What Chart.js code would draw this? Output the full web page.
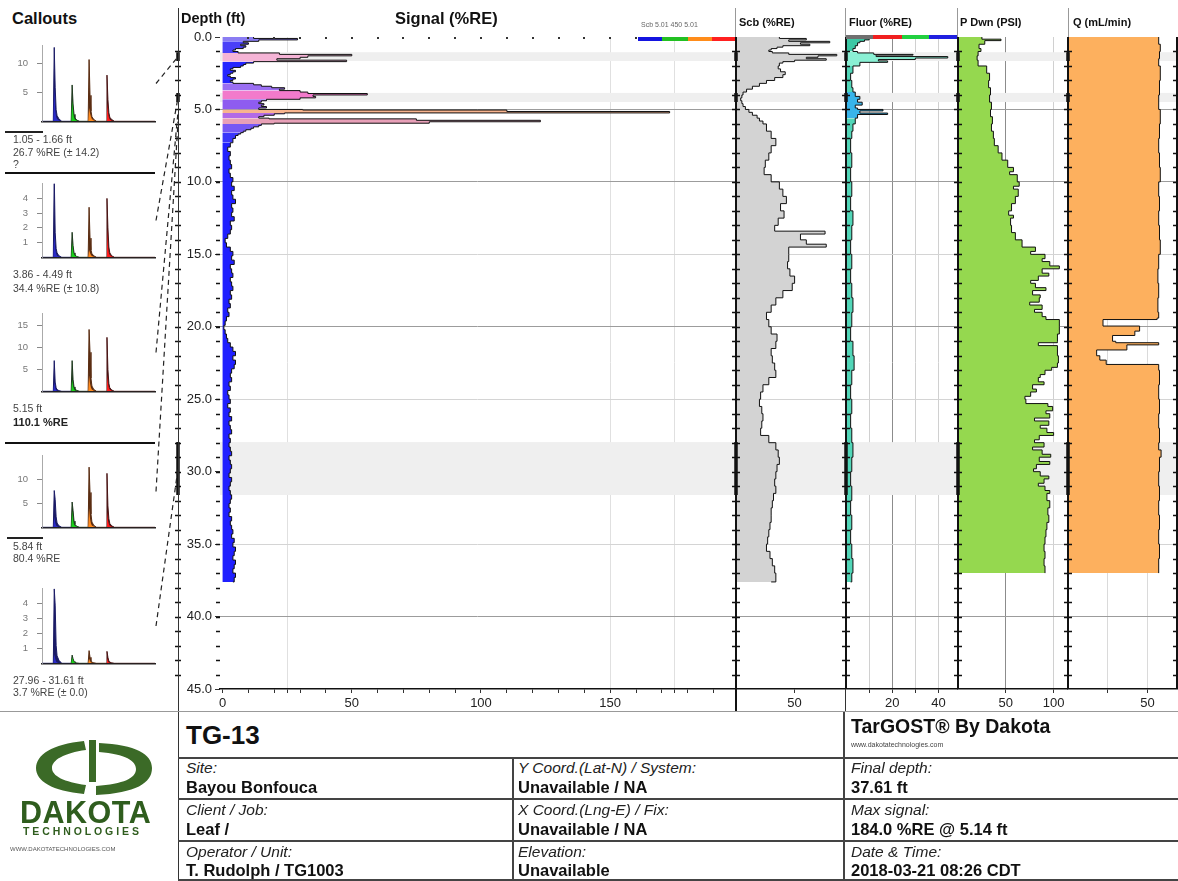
<!DOCTYPE html>
<html><head><meta charset="utf-8">
<script src="https://cdn.jsdelivr.net/npm/chart.js@4/dist/chart.umd.min.js"></script>
<style>
html,body{margin:0;padding:0;background:#fff}
body{width:1178px;height:881px;position:relative;overflow:hidden;font-family:"Liberation Sans",Arial,sans-serif;color:#111}
.t{position:absolute;white-space:nowrap;line-height:1;z-index:5}
.ln{position:absolute;background:#111;z-index:5}
canvas{position:absolute}
.lab{font-style:italic;font-size:15.5px;color:#222}
.val{font-weight:bold;font-size:16.5px;color:#111}
.co{font-size:10.5px;color:#444}
</style></head><body>

<div class="t" style="left:12px;top:10px;font-size:16.5px;font-weight:bold">Callouts</div>
<div class="t" style="left:181px;top:11px;font-size:14.5px;font-weight:bold">Depth (ft)</div>
<div class="t" style="left:395px;top:10px;font-size:16.5px;font-weight:bold">Signal (%RE)</div>
<div class="t" style="left:641px;top:21px;font-size:7px;color:#666">Scb 5.01 450 5.01</div>
<div class="t" style="left:739px;top:17px;font-size:11px;font-weight:bold">Scb (%RE)</div>
<div class="t" style="left:849px;top:17px;font-size:11px;font-weight:bold">Fluor (%RE)</div>
<div class="t" style="left:960px;top:17px;font-size:11px;font-weight:bold">P Dwn (PSI)</div>
<div class="t" style="left:1073px;top:17px;font-size:11px;font-weight:bold">Q (mL/min)</div>

<!-- legend bars -->
<div class="ln" style="left:638px;top:37px;width:24px;height:4px;background:#1414e0"></div>
<div class="ln" style="left:662px;top:37px;width:26px;height:4px;background:#22c022"></div>
<div class="ln" style="left:688px;top:37px;width:24px;height:4px;background:#ff8c1a"></div>
<div class="ln" style="left:712px;top:37px;width:23px;height:4px;background:#ff2020"></div>
<div class="ln" style="left:846px;top:35px;width:27px;height:4px;background:#707070"></div>
<div class="ln" style="left:873px;top:35px;width:29px;height:4px;background:#f02020"></div>
<div class="ln" style="left:902px;top:35px;width:27px;height:4px;background:#22d040"></div>
<div class="ln" style="left:929px;top:35px;width:28px;height:4px;background:#2020e0"></div>

<!-- separators -->
<div class="ln" style="left:178px;top:8px;width:1px;height:873px;background:#333"></div>
<div class="ln" style="left:735px;top:8px;width:1px;height:29px;background:#999"></div>
<div class="ln" style="left:845px;top:8px;width:1px;height:29px;background:#999"></div>
<div class="ln" style="left:957px;top:8px;width:1px;height:29px;background:#999"></div>
<div class="ln" style="left:1068px;top:8px;width:1px;height:29px;background:#999"></div>
<div class="ln" style="left:735px;top:689px;width:2px;height:23px;background:#111"></div>
<div class="ln" style="left:845px;top:689px;width:1px;height:23px;background:#333"></div>
<div class="ln" style="left:0;top:711px;width:1178px;height:1px;background:#999"></div>

<!-- callout separators -->
<div class="ln" style="left:5px;top:172px;width:150px;height:2px;background:#111"></div>
<div class="ln" style="left:5px;top:442px;width:150px;height:2px;background:#111"></div>
<div class="ln" style="left:5px;top:131px;width:38px;height:1.5px;background:#222"></div>
<div class="ln" style="left:7px;top:537px;width:36px;height:1.5px;background:#222"></div>

<!-- callout texts -->
<div class="t co" style="left:13px;top:134px">1.05 - 1.66 ft</div>
<div class="t co" style="left:13px;top:147px">26.7 %RE (± 14.2)</div>
<div class="t co" style="left:13px;top:159px">?</div>
<div class="t co" style="left:13px;top:269px">3.86 - 4.49 ft</div>
<div class="t co" style="left:13px;top:283px">34.4 %RE (± 10.8)</div>
<div class="t co" style="left:13px;top:403px">5.15 ft</div>
<div class="t" style="left:13px;top:417px;font-size:11px;font-weight:bold;color:#222">110.1 %RE</div>
<div class="t co" style="left:13px;top:541px">5.84 ft</div>
<div class="t co" style="left:13px;top:553px">80.4 %RE</div>
<div class="t co" style="left:13px;top:675px">27.96 - 31.61 ft</div>
<div class="t co" style="left:13px;top:687px">3.7 %RE (± 0.0)</div>

<!-- info table -->
<div class="ln" style="left:178px;top:757px;width:1000px;height:1.5px;background:#444"></div>
<div class="ln" style="left:178px;top:798px;width:1000px;height:1.5px;background:#444"></div>
<div class="ln" style="left:178px;top:840px;width:1000px;height:1.5px;background:#444"></div>
<div class="ln" style="left:178px;top:879px;width:1000px;height:1.5px;background:#444"></div>
<div class="ln" style="left:512px;top:757px;width:1.5px;height:124px;background:#444"></div>
<div class="ln" style="left:843px;top:712px;width:1.5px;height:169px;background:#444"></div>

<div class="t" style="left:186px;top:722px;font-size:26px;font-weight:bold">TG-13</div>
<div class="t" style="left:851px;top:717px;font-size:19.5px;font-weight:bold">TarGOST® By Dakota</div>
<div class="t" style="left:851px;top:741px;font-size:7px;color:#444">www.dakotatechnologies.com</div>

<div class="t lab" style="left:186px;top:760px">Site:</div>
<div class="t val" style="left:186px;top:779px">Bayou Bonfouca</div>
<div class="t lab" style="left:186px;top:802px">Client / Job:</div>
<div class="t val" style="left:186px;top:821px">Leaf /</div>
<div class="t lab" style="left:186px;top:844px">Operator / Unit:</div>
<div class="t val" style="left:186px;top:862px">T. Rudolph / TG1003</div>

<div class="t lab" style="left:518px;top:760px">Y Coord.(Lat-N) / System:</div>
<div class="t val" style="left:518px;top:779px">Unavailable / NA</div>
<div class="t lab" style="left:518px;top:802px">X Coord.(Lng-E) / Fix:</div>
<div class="t val" style="left:518px;top:821px">Unavailable / NA</div>
<div class="t lab" style="left:518px;top:844px">Elevation:</div>
<div class="t val" style="left:518px;top:862px">Unavailable</div>

<div class="t lab" style="left:851px;top:760px">Final depth:</div>
<div class="t val" style="left:851px;top:779px">37.61 ft</div>
<div class="t lab" style="left:851px;top:802px">Max signal:</div>
<div class="t val" style="left:851px;top:821px">184.0 %RE @ 5.14 ft</div>
<div class="t lab" style="left:851px;top:844px">Date &amp; Time:</div>
<div class="t val" style="left:851px;top:862px">2018-03-21 08:26 CDT</div>

<!-- logo -->
<svg style="position:absolute;left:32px;top:738px;z-index:5" width="125" height="60" viewBox="0 0 125 60">
  <path d="M52,3 C20,6 4,17 4,30 C4,43 20,53 52,56 L54,47 C32,44 20,38 20,30 C20,22 32,15 54,12 Z" fill="#3b6a27"/>
  <rect x="57" y="2" width="7" height="42" fill="#3b6a27"/>
  <path d="M67,14 C94,16 104,23 104,31 C104,40 92,46 64,48 L64,57 C104,55 120,45 120,30 C120,16 104,7 67,5 Z" fill="#3b6a27"/>
</svg>
<div class="t" style="left:20px;top:797px;font-size:30.5px;font-weight:bold;color:#2f5d1e;letter-spacing:0.5px">DAKOTA</div>
<div class="t" style="left:23px;top:826px;font-size:10.5px;font-weight:bold;color:#2f5d1e;letter-spacing:2.9px">TECHNOLOGIES</div>
<div class="t" style="left:10px;top:846px;font-size:6px;color:#555">WWW.DAKOTATECHNOLOGIES.COM</div>

<script>
// ---------------- DATA ----------------
// Main signal (%RE) vs depth (ft)
const sigDepth = [0.0,0.1,0.2,0.3,0.4,0.5,0.6,0.7,0.8,0.9,1.0,1.1,1.2,1.3,1.4,1.5,1.6,1.7,1.8,1.9,
  2.0,2.1,2.2,2.3,2.4,2.5,2.6,2.7,2.8,2.9,3.0,3.1,3.2,3.3,3.4,3.5,3.6,3.7,3.8,3.9,
  4.0,4.1,4.2,4.3,4.4,4.5,4.6,4.7,4.8,4.9,5.0,5.04,5.14,5.24,5.3,5.4,5.5,5.6,5.65,5.75,5.85,5.95,
  6.0,6.1,6.2,6.3,6.4,6.5,6.6,6.7,6.8,6.9,7.0,
  7.3,7.6,7.9,8.2,8.5,8.8,9.1,9.4,9.7,10.0,10.3,10.6,10.9,11.2,11.5,11.8,12.1,12.4,12.7,13.0,
  13.3,13.6,13.9,14.2,14.5,14.8,15.1,15.4,15.7,16.0,16.3,16.6,16.9,17.2,17.5,17.8,18.1,18.4,18.7,19.0,
  19.3,19.6,19.9,20.2,20.5,20.8,21.1,21.4,21.7,22.0,22.3,22.6,22.9,23.2,23.5,23.8,24.1,24.4,24.7,25.0,
  25.3,25.6,25.9,26.2,26.5,26.8,27.1,27.4,27.7,28.0,28.3,28.6,28.9,29.2,29.5,29.8,30.1,30.4,30.7,31.0,
  31.3,31.6,31.9,32.2,32.5,32.8,33.1,33.4,33.7,34.0,34.3,34.6,34.9,35.2,35.5,35.8,36.1,36.4,36.7,37.0,
  37.3,37.61];
const sigValue = [12,29,14,8,10,7,9,8,5,4,6,22,50,33,30,21,48,12,9,8,
  7,4,3,5,4,3,2,3,5,4,3,4,12,15,19,24,22,30,33,56,
  35,36,30,17,15,14,16,15,17,14,31,110,173,24,20,16,14,18,75,123,80,20,
  15,14,12,11,9,8,7,6,5,5,4,
  3,2,3,2.5,3,3.5,2.5,3,4,3.5,4.5,3.5,4,5,3.5,4,3.5,4.5,3,3.5,
  3,2,1,1.5,3,4,3.5,4.5,3,3.5,4,3,3.5,4,3,3.5,2.5,3,2,2.5,
  1.5,1,0.5,1,1.5,2,3,4,5,4,5,4.5,3.5,3,3.5,2.5,3,2,2.5,3,
  2,3,2.5,3.5,2.5,3,3.5,2.5,3,2.5,3,3.5,2.5,3,3.5,3,2.5,3.5,3,2.5,
  3,3.5,3,2.5,3,2.5,3.5,3,3.5,4,3.5,4.5,4,5,4.5,4,5,4.5,4,5,
  4.5,4];

// Scb (%RE)
const scbDepth = [0.0,0.1,0.2,0.3,0.4,0.5,0.6,0.7,0.8,0.9,1.0,1.1,1.2,1.3,1.4,1.5,1.6,1.7,1.8,2.0,
  2.2,2.4,2.6,2.8,3.0,3.2,3.4,3.6,3.8,4.0,4.2,4.4,4.6,4.8,5.0,5.2,5.4,5.6,5.8,6.0,
  6.5,7.0,7.5,8.0,8.5,9.0,9.5,10.0,10.5,11.0,11.5,12.0,12.5,13.0,13.4,13.6,14.0,14.3,14.5,15.0,
  15.5,16.0,16.5,17.0,17.5,18.0,18.5,19.0,19.5,20.0,20.5,21.0,21.5,22.0,22.5,23.0,23.5,24.0,24.5,25.0,
  25.5,26.0,26.5,27.0,27.5,28.0,28.5,29.0,29.5,30.0,30.5,31.0,31.5,32.0,32.5,33.0,33.5,34.0,34.5,35.0,
  35.5,36.0,36.5,37.0,37.61];
const scbValue = [37,60,45,80,55,63,40,35,30,28,31,45,86,70,60,77,50,40,37,36,
  38,42,40,33,26,20,14,9,6,5,4,5,6,8,11,14,18,20,23,26,
  30,34,30,28,25,24,30,37,40,43,38,41,36,33,76,55,60,77,45,45,
  44,46,50,48,40,34,30,26,28,30,35,34,30,31,33,34,28,23,21,20,
  22,23,22,21,28,34,36,37,35,34,33,34,32,31,30,30,29,28,27,26,
  29,31,33,34,30];

// Fluor (%RE)
const fluDepth = [0.0,0.1,0.2,0.3,0.4,0.6,0.8,1.0,1.1,1.2,1.25,1.35,1.45,1.55,1.65,1.75,2.0,2.5,3.0,3.5,
  3.8,4.1,4.3,4.5,4.7,4.9,5.0,5.1,5.25,5.35,5.6,6.0,6.5,7.0,8.0,9.0,10.0,11.0,12.0,13.0,
  14.0,15.0,16.0,17.0,18.0,19.0,20.0,21.0,22.0,23.0,24.0,25.0,26.0,27.0,28.0,29.0,30.0,31.0,32.0,33.0,
  34.0,35.0,36.0,37.0,37.61];
const fluValue = [12,10,8,6,5,4,3,5,12,29,13,44,30,14,18,6,3,2,2.5,3,
  4,6,5,7,4,5,16,6,18,5,4,3,2.5,2,2.5,2,2.5,2,3,2.5,
  2,2.5,2,2.5,3,2.5,2,3,3.5,2.5,2,2.5,2,2.5,3,2.5,2,2.5,2,2.5,
  2,2.5,3,2.5,2];

// P Dwn (PSI)
const pDepth = [0.0,0.15,0.25,0.5,0.8,1.0,1.3,1.6,2.0,2.5,3.0,3.5,4.0,4.5,5.0,5.5,6.0,6.5,7.0,7.5,
  8.0,8.5,9.0,9.3,9.5,10.0,10.3,10.5,11.0,11.5,12.0,12.3,12.5,13.0,13.5,14.0,14.5,14.8,15.0,15.3,
  15.5,15.8,16.0,16.3,16.5,16.8,17.0,17.3,17.5,17.8,18.0,18.3,18.5,18.8,19.0,19.3,19.5,20.0,20.5,21.0,
  21.1,21.3,22.0,22.5,22.8,23.0,23.3,23.5,23.8,24.0,24.3,24.5,24.8,25.0,25.3,25.5,25.8,26.0,26.3,26.5,
  26.8,27.0,27.3,27.5,27.8,28.0,28.3,28.5,28.8,29.0,29.3,29.5,29.8,30.0,30.3,30.5,30.8,31.0,31.3,31.5,
  32.0,32.5,33.0,33.5,34.0,34.5,35.0,35.5,36.0,36.5,37.0];
const pValue = [25,45,28,22,24,21,20,21,30,33,32,34,33,35,34,36,35,37,38,42,
  46,52,58,54,62,64,58,63,60,56,53,58,55,56,60,67,81,76,91,88,
  96,106,88,95,84,76,81,92,78,86,85,75,88,80,88,92,106,106,104,104,
  84,104,105,104,98,91,86,84,90,78,82,76,70,71,94,99,92,96,80,95,
  86,93,100,85,80,90,78,88,97,85,96,82,79,86,95,90,84,91,96,93,
  96,94,95,93,92,91,90,91,90,91,91];

// Q (mL/min)
const qDepth = [0.0,0.5,1.0,1.5,2.0,3.0,4.0,5.0,6.0,7.0,8.0,9.0,10.0,11.0,12.0,13.0,14.0,15.0,16.0,17.0,
  18.0,19.0,19.4,19.5,19.95,20.3,20.6,21.0,21.1,21.25,21.6,22.0,22.3,22.6,23.0,24.0,25.0,26.0,27.0,28.0,
  28.5,29.0,30.0,31.0,32.0,33.0,34.0,35.0,36.0,37.0];
const qValue = [57,58,57.5,57,58,57.5,57,58,57.5,57,57.5,58,57,57.5,57,57.5,58,57,56.5,57,
  56.5,57,56,22,45,42,28,30,57,37,18,20,24,57,57.5,57,57.5,57,57.5,57,
  58.5,57.5,57,57.5,57,57.5,57,57.5,57,57];

// Callout depth intervals (grey bands) and connector depths
const bandTop = [1.05, 3.86, 27.96];
const bandBottom = [1.66, 4.49, 31.61];
const calloutLinkDepth = [1.36, 4.18, 5.15, 5.84, 29.79];

// Tick values
const depthTicks = [0,5,10,15,20,25,30,35,40,45];
const mainXTicks = [0,10,20,25,30,40,50,60,70,80,90,100,110,120,130,140,150,160,170,175,180,190];
const mainXLabels = [0,50,100,150];
const mainTopDots = [10,20,30,40,50,60,70,80,90,100,110,120,130,140,150,160,170,180,190];
const scbXTicks = [50], scbXLabels = [50];
const fluXTicks = [10,20,30,40], fluXLabels = [20,40];
const pXTicks = [50,100], pXLabels = [50,100];
const qXTicks = [25,50], qXLabels = [50];

// Callout waveforms (time bins, amplitudes)
const calloutTime = [0, 12,13,14,15,16,18,21, 31,32,33,34,35,37,40, 49,50,51,52,53,55,58, 68,69,70,71,72,74,77, 120];
const c1Dark  = [0, 0,12.8,5.9,2.0,1.0,0.4,0, 0,6.3,3.0,1.2,0.6,0.2,0, 0,10.7,4.5,1.8,0.8,0.3,0, 0,8.0,3.8,1.5,0.7,0.3,0, 0];
const c1Color = [0, 0,5.9,2.0,0.8,0.4,0.15,0, 0,3.6,1.6,0.6,0.3,0.1,0, 0,2.3,1.4,0.8,0.4,0.15,0, 0,3.2,1.6,0.7,0.3,0.1,0, 0];
const c2Dark  = [0, 0,5.5,1.7,0.6,0.3,0.1,0, 0,1.7,0.8,0.3,0.15,0.05,0, 0,3.4,1.3,0.5,0.25,0.1,0, 0,4.0,2.0,0.7,0.3,0.1,0, 0];
const c2Color = [0, 0,1.7,0.6,0.25,0.1,0.05,0, 0,1.0,0.4,0.2,0.1,0.03,0, 0,0.5,0.3,0.15,0.08,0.03,0, 0,2.0,0.8,0.3,0.15,0.05,0, 0];
const c3Dark  = [0, 0,7.0,2.1,0.8,0.4,0.15,0, 0,7.0,2.7,1.0,0.5,0.2,0, 0,14.1,8.9,3.0,1.2,0.4,0, 0,12.3,5.0,1.8,0.8,0.3,0, 0];
const c3Color = [0, 0,2.1,0.8,0.3,0.15,0.05,0, 0,2.7,1.2,0.5,0.2,0.08,0, 0,3.6,1.8,0.8,0.4,0.15,0, 0,3.9,1.9,0.8,0.4,0.15,0, 0];
const c4Dark  = [0, 0,7.7,5.8,2.2,0.9,0.3,0, 0,5.3,3.5,1.3,0.6,0.2,0, 0,12.6,7.3,2.8,1.1,0.4,0, 0,11.3,4.5,1.8,0.8,0.3,0, 0];
const c4Color = [0, 0,2.2,1.0,0.4,0.2,0.05,0, 0,3.5,1.6,0.6,0.3,0.1,0, 0,4.0,1.8,0.8,0.4,0.15,0, 0,3.3,1.5,0.7,0.3,0.1,0, 0];
const c5Dark  = [0, 0,5.0,3.9,1.2,0.5,0.2,0, 0,0.55,0.3,0.12,0.06,0.02,0, 0,0.85,0.4,0.15,0.08,0.03,0, 0,0.8,0.4,0.15,0.08,0.03,0, 0];
const c5Color = [0, 0,0.6,0.3,0.1,0.05,0.02,0, 0,0.4,0.2,0.08,0.04,0.01,0, 0,0.3,0.15,0.06,0.03,0.01,0, 0,0.35,0.15,0.06,0.03,0.01,0, 0];
const c1Ticks = [5,10], c2Ticks = [1,2,3,4], c3Ticks = [5,10,15], c4Ticks = [5,10], c5Ticks = [1,2,3,4];

// ---------------- STYLES ----------------
const sigZones = [[0.0,0.25,'#8a7cf2'],[0.25,1.05,'#4a40f8'],[1.05,1.7,'#f5b4d6'],[1.7,3.15,'#2424ff'],
  [3.15,3.65,'#9a6ef2'],[3.65,4.3,'#f27acb'],[4.3,5.0,'#8e5cf0'],[5.0,5.24,'#f8b48e'],[5.24,5.6,'#b26ae6'],
  [5.6,6.0,'#e8a0b8'],[6.0,6.6,'#7658f4'],[6.6,7.3,'#3a36fa']];
const fluZones = [[0,0.9,'#3cc8a4'],[0.9,1.8,'#8af0d4'],[3.8,5.5,'#38b4ea']];
function zoneColor(zones, d, fb) { for (const z of zones) { if (d >= z[0] && d < z[1]) return z[2]; } return fb; }

Chart.defaults.font.family = '"Liberation Sans", Arial, sans-serif';
Chart.defaults.color = '#222';
Chart.defaults.animation = false;
Chart.defaults.plugins.legend.display = false;
Chart.defaults.plugins.tooltip.enabled = false;

const TOP = 37, BOTTOM = 689, AXIS_H = 24, PAD_T = 12, PAD_B = 2;
const pts = (ds, vs) => ds.map((d, i) => ({x: vs[i], y: d}));
const CLEAR = 'rgba(0,0,0,0)';
function depthGridColor(v) {
  if (v === undefined || v === 0 || v === 45) return CLEAR;
  return (v % 10 === 0 || v === 5) ? '#9c9c9c' : '#d4d4d4';
}

const bandPlugin = {
  id: 'bands',
  beforeDatasetsDraw(chart) {
    const {ctx, chartArea: a, scales: {y}} = chart;
    ctx.save();
    ctx.fillStyle = '#efefef';
    for (let i = 0; i < bandTop.length; i++) {
      const y0 = y.getPixelForValue(bandTop[i]), y1 = y.getPixelForValue(bandBottom[i]);
      ctx.fillRect(a.left, y0, a.right - a.left, y1 - y0);
    }
    ctx.restore();
  },
  afterDraw(chart, args, o) {
    const {ctx, chartArea: a, scales: {x, y}} = chart;
    ctx.save();
    ctx.strokeStyle = '#111';
    for (const e of (o.edges || [])) {
      const x0 = (e.side === 'right' ? a.right : a.left) + (e.off || 0);
      if (e.line) { ctx.lineWidth = e.line; ctx.beginPath(); ctx.moveTo(x0, a.top); ctx.lineTo(x0, a.bottom); ctx.stroke(); }
      ctx.lineWidth = 1.3;
      ctx.beginPath();
      for (let d = 1; d < 45; d++) {
        const py = Math.round(y.getPixelForValue(d)) + 0.5;
        ctx.moveTo(x0 - e.l, py); ctx.lineTo(x0 + e.r, py);
      }
      ctx.stroke();
      if (e.mark) {
        ctx.lineWidth = 3.5;
        ctx.beginPath();
        for (let i = 0; i < bandTop.length; i++) {
          ctx.moveTo(x0, y.getPixelForValue(bandTop[i])); ctx.lineTo(x0, y.getPixelForValue(bandBottom[i]));
        }
        ctx.stroke();
      }
    }
    if (o.dots) {
      ctx.fillStyle = '#333';
      for (const v of o.dots) ctx.fillRect(Math.round(x.getPixelForValue(v)) - 1, a.top, 2, 2);
    }
    ctx.restore();
  }
};

function makeChart(left, top, width, height, config) {
  const cv = document.createElement('canvas');
  cv.width = width; cv.height = height;
  cv.style.left = left + 'px'; cv.style.top = top + 'px';
  cv.style.width = width + 'px'; cv.style.height = height + 'px';
  document.body.appendChild(cv);
  config.options.responsive = false;
  config.options.devicePixelRatio = 1;
  const ch = new Chart(cv, config);
  ch._pageTop = top; ch._pageLeft = left;
  return ch;
}

function logPanel(p) {
  const padL = p.padL ?? 10, padR = p.padR ?? 10, yW = p.yWidth || 0;
  const left = p.areaLeft - padL - yW;
  const width = p.areaRight - p.areaLeft + padL + padR + yW;
  const top = TOP - PAD_T;
  const height = BOTTOM - TOP + PAD_T + AXIS_H + PAD_B;
  return makeChart(left, top, width, height, {
    type: 'line',
    data: {datasets: p.datasets},
    plugins: [bandPlugin],
    options: {
      indexAxis: 'y',
      layout: {padding: {left: padL, right: padR, top: PAD_T, bottom: PAD_B}},
      elements: {point: {radius: 0}, line: {tension: 0}},
      plugins: {bands: {edges: p.edges, dots: p.dots}},
      scales: {
        x: {type: 'linear', position: 'bottom', min: p.xMin, max: p.xMax,
          afterBuildTicks: s => { s.ticks = p.xTicks.map(v => ({value: v})); },
          afterFit: s => { s.height = AXIS_H; },
          ticks: {autoSkip: false, maxRotation: 0, padding: 3, font: {size: 13}, color: '#222',
                  callback: v => p.xLabels.includes(v) ? String(v) : ''},
          grid: {color: c => p.xGrid(c.tick ? c.tick.value : undefined), tickLength: 4, tickColor: '#333', drawTicks: true},
          border: {display: true, color: '#111', width: 1.5}},
        y: {type: 'linear', reverse: true, min: 0, max: 45,
          afterBuildTicks: s => { s.ticks = depthTicks.map(v => ({value: v})); },
          afterFit: s => { s.width = yW; },
          ticks: {display: !!p.showDepth, autoSkip: false, padding: 3, font: {size: 13}, color: '#222',
                  callback: v => Number(v).toFixed(1)},
          grid: {color: c => depthGridColor(c.tick ? c.tick.value : undefined), drawTicks: !!p.showDepth, tickLength: 5, tickColor: '#333'},
          border: {display: false}}
      }
    }
  });
}

function logDataset(depths, values, fillColor, zones) {
  const ds = {data: pts(depths, values), stepped: 'after', fill: 'origin', borderColor: '#111', borderWidth: 1,
    backgroundColor: fillColor, pointRadius: 0};
  if (zones) ds.segment = {backgroundColor: c => zoneColor(zones, depths[c.p0DataIndex], fillColor)};
  return ds;
}

// main signal panel
const mainChart = logPanel({areaLeft: 220, areaRight: 735, yWidth: 42, padL: 8, padR: 2, showDepth: true,
  xMin: -1, xMax: 198.3, xTicks: mainXTicks, xLabels: mainXLabels, dots: mainTopDots,
  xGrid: v => [25,150,175].includes(v) ? '#e0e0e0' : CLEAR,
  datasets: [logDataset(sigDepth, sigValue, '#2020ff', sigZones)],
  edges: [{off: 0, l: 4, r: 0}, {off: -42, l: 3, r: 3, mark: true}]});

logPanel({areaLeft: 736, areaRight: 845, xMin: 0, xMax: 93, xTicks: scbXTicks, xLabels: scbXLabels,
  xGrid: v => CLEAR, datasets: [logDataset(scbDepth, scbValue, '#d3d3d3')],
  edges: [{off: 0, line: 2, l: 4, r: 4, mark: true}]});

logPanel({areaLeft: 846, areaRight: 957, xMin: 0, xMax: 48, xTicks: fluXTicks, xLabels: fluXLabels,
  xGrid: v => v === 20 ? '#8c8c8c' : '#d0d0d0', datasets: [logDataset(fluDepth, fluValue, '#52d6b8', fluZones)],
  edges: [{off: 0, line: 2, l: 4, r: 4, mark: true}]});

logPanel({areaLeft: 958, areaRight: 1067, xMin: 0, xMax: 114, xTicks: pXTicks, xLabels: pXLabels,
  xGrid: v => v === 50 ? '#8c8c8c' : '#d0d0d0', datasets: [logDataset(pDepth, pValue, '#95d84f')],
  edges: [{off: 0, line: 2, l: 4, r: 4, mark: true}]});

logPanel({areaLeft: 1068, areaRight: 1177, xMin: 0, xMax: 68.5, xTicks: qXTicks, xLabels: qXLabels,
  xGrid: v => '#dadada', datasets: [logDataset(qDepth, qValue, '#fdb05e')],
  edges: [{off: 0, line: 2, l: 4, r: 4, mark: true}, {side: 'right', off: 0, line: 2, l: 4, r: 4}]});

// ---------------- CALLOUTS ----------------
const brightCols = ['#2b2bc8', '#19d119', '#ff8a1e', '#ff1c1c'];
const darkCols = ['#1b1b66', '#1f3a1f', '#5a2d12', '#4a1414'];
const chan = t => t < 25 ? 0 : t < 45 ? 1 : t < 62 ? 2 : 3;

function callout(top, bottom, ymax, yTicks, dark, color) {
  const padT = 4, padB = 3, axisH = 1;
  const height = bottom - top + padT + padB + axisH;
  return makeChart(0, top - padT, 160, height, {
    type: 'line',
    data: {datasets: [
      {data: calloutTime.map((t, i) => ({x: t, y: color[i]})), fill: 'origin', borderColor: CLEAR, borderWidth: 1,
       backgroundColor: brightCols[0], pointRadius: 0,
       segment: {backgroundColor: c => brightCols[chan(calloutTime[c.p0DataIndex])]}},
      {data: calloutTime.map((t, i) => ({x: t, y: dark[i]})), fill: 'origin', borderWidth: 1,
       backgroundColor: darkCols[0], borderColor: darkCols[0], pointRadius: 0,
       segment: {backgroundColor: c => darkCols[chan(calloutTime[c.p0DataIndex])],
                 borderColor: c => darkCols[chan(calloutTime[c.p0DataIndex])]}}
    ]},
    options: {
      layout: {padding: {left: 0, right: 5, top: padT, bottom: padB}},
      elements: {point: {radius: 0}, line: {tension: 0}},
      scales: {
        x: {type: 'linear', min: 0, max: 120, afterFit: s => { s.height = axisH; },
            ticks: {display: false}, grid: {display: false}, border: {display: true, color: '#222', width: 1.5}},
        y: {type: 'linear', min: 0, max: ymax,
            afterBuildTicks: s => { s.ticks = yTicks.map(v => ({value: v})); },
            afterFit: s => { s.width = 42; },
            ticks: {font: {size: 9.5}, color: '#777', padding: 9, autoSkip: false},
            grid: {drawOnChartArea: false, tickLength: 5, color: '#888'},
            border: {color: '#aaa', width: 1}}
      }
    }
  });
}

const callouts = [
  callout(35, 132, 13.1, c1Ticks, c1Dark, c1Color),
  callout(173, 268, 5.0, c2Ticks, c2Dark, c2Color),
  callout(303, 402, 17.7, c3Ticks, c3Dark, c3Color),
  callout(445, 538, 15.0, c4Ticks, c4Dark, c4Color),
  callout(578, 674, 5.0, c5Ticks, c5Dark, c5Color)
];

// connector dashed lines from callouts to depth axis
const svgNS = 'http://www.w3.org/2000/svg';
const svg = document.createElementNS(svgNS, 'svg');
svg.setAttribute('width', '1178'); svg.setAttribute('height', '881');
svg.style.cssText = 'position:absolute;left:0;top:0;z-index:6;pointer-events:none';
callouts.forEach((c, i) => {
  const a = c.chartArea;
  const y1 = c._pageTop + (a.top + a.bottom) / 2;
  const y2 = mainChart._pageTop + mainChart.scales.y.getPixelForValue(calloutLinkDepth[i]);
  const ln = document.createElementNS(svgNS, 'line');
  ln.setAttribute('x1', 156); ln.setAttribute('y1', y1);
  ln.setAttribute('x2', 178); ln.setAttribute('y2', y2);
  ln.setAttribute('stroke', '#222'); ln.setAttribute('stroke-width', '1.2');
  ln.setAttribute('stroke-dasharray', '5 4');
  svg.appendChild(ln);
});
document.body.appendChild(svg);
</script>
</body></html>
